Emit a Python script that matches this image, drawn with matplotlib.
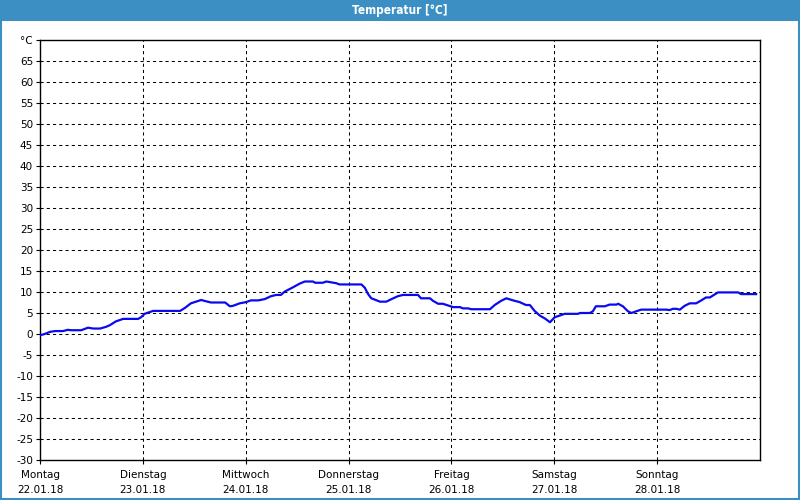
import matplotlib
matplotlib.use("Agg")
import matplotlib.pyplot as plt
from matplotlib.patches import Rectangle
import numpy as np

# hours since Montag 00:00 and temperature in degC
hours = [0, 1.1, 2.3, 3.5, 5.4, 6.5, 7.2, 9.6, 11.2, 12.4, 14, 15.4, 16.3, 17.7,
         19.4, 22.9, 23.6, 24.4, 26.4, 32.7, 33.8, 35.2, 37.6, 38.7, 39.9, 43.2,
         44.3, 45, 46.6, 48.1, 49.2, 50.9, 52.4, 53.9, 55.1, 56.2, 57.1, 59,
         60.6, 61.8, 63.7, 64.2, 66, 66.8, 69.1, 69.9, 75, 75.8, 76.5, 77.3,
         78.1, 79.3, 80.8, 82, 83.5, 84.7, 88.2, 88.9, 91, 91.7, 92.9, 94, 95.2,
         96.4, 98, 98.7, 99.9, 100.6, 105, 106.1, 107.6, 108.8, 110.4, 111.9,
         113.4, 114.3, 115.4, 116.6, 117.8, 119, 120.1, 121.3, 122.4, 125.5,
         126, 128.3, 129, 129.7, 131.8, 132.9, 134.5, 134.9, 136, 137.2, 138,
         139.1, 140.3, 146.1, 146.9, 147.7, 148.5, 149.3, 150.4, 151.6, 153.1,
         154.3, 155.4, 156.3, 157.4, 158.2, 162.9, 163.6, 167.1]
temps = [-0.3, 0.0, 0.5, 0.7, 0.7, 1.0, 0.9, 0.9, 1.5, 1.3, 1.3, 1.7, 2.1, 3.0,
         3.6, 3.6, 4.0, 4.8, 5.5, 5.5, 6.2, 7.3, 8.1, 7.8, 7.5, 7.5,
         6.6, 6.7, 7.3, 7.6, 8.0, 8.0, 8.3, 9.0, 9.3, 9.3, 10.1, 11.1,
         12.0, 12.5, 12.5, 12.2, 12.2, 12.5, 12.1, 11.8, 11.8, 11.0, 9.6, 8.5,
         8.2, 7.7, 7.7, 8.3, 9.0, 9.3, 9.3, 8.5, 8.5, 7.9, 7.2, 7.2, 6.8,
         6.4, 6.4, 6.1, 6.1, 5.9, 5.9, 6.9, 7.9, 8.5, 8.0, 7.6,
         6.9, 6.9, 5.5, 4.4, 3.7, 2.8, 4.0, 4.4, 4.8, 4.8,
         5.0, 5.0, 5.4, 6.6, 6.6, 7.0, 7.0, 7.2, 6.6, 5.4, 5.0,
         5.4, 5.8, 5.8, 5.7, 6.0, 6.0, 5.8, 6.7, 7.3, 7.3,
         8.0, 8.7, 8.7, 9.4, 9.9, 9.9, 9.5, 9.5]

day_names = ["Montag", "Dienstag", "Mittwoch", "Donnerstag", "Freitag", "Samstag", "Sonntag"]
day_dates = ["22.01.18", "23.01.18", "24.01.18", "25.01.18", "26.01.18", "27.01.18", "28.01.18"]
y_ticks = list(range(-30, 75, 5))
y_labels = [str(v) for v in y_ticks[:-1]] + ["°C"]

bar_blue = "#3b8fc3"

plt.rcParams["font.family"] = ["DejaVu Sans"]
fig = plt.figure(figsize=(8, 5), dpi=100)
fig.patch.set_facecolor("white")

# title bar and outer frame
fig.patches.append(Rectangle((0, 0.958), 1, 0.042, transform=fig.transFigure,
                             facecolor=bar_blue, edgecolor="none", zorder=0))
fig.patches.append(Rectangle((0.001, 0.002), 0.998, 0.996, transform=fig.transFigure,
                             facecolor="none", edgecolor=bar_blue, lw=1.5, zorder=1))
fig.text(0.5, 0.979, "Temperatur [°C]", color="white", fontsize=8.5, fontweight="bold",
         fontstretch="condensed", ha="center", va="center")

ax = fig.add_axes([0.05, 0.08, 0.90, 0.84])
days = np.array(hours) / 24.0
ax.plot(days, temps, color="#0a0af0", lw=1.6, zorder=3)

ax.set_xlim(0, 7)
ax.set_ylim(-30, 70)
ax.set_xticks(range(7))
ax.set_xticklabels([f"{n}\n{d}" for n, d in zip(day_names, day_dates)],
                   fontsize=7.5, linespacing=1.65)
ax.set_yticks(y_ticks)
ax.set_yticklabels(y_labels, fontsize=7.5)
ax.tick_params(length=3, width=0.8, color="black", pad=2)
ax.tick_params(axis="x", pad=4)

for v in y_ticks[1:-1]:
    ax.axhline(v, color="black", lw=0.75, ls=(0, (3, 3)), zorder=1)
for d in range(1, 7):
    ax.axvline(d, color="black", lw=0.75, ls=(0, (3, 3)), zorder=1)

for s in ax.spines.values():
    s.set_linewidth(1.0)
    s.set_color("black")

fig.savefig("out.png", dpi=100)
